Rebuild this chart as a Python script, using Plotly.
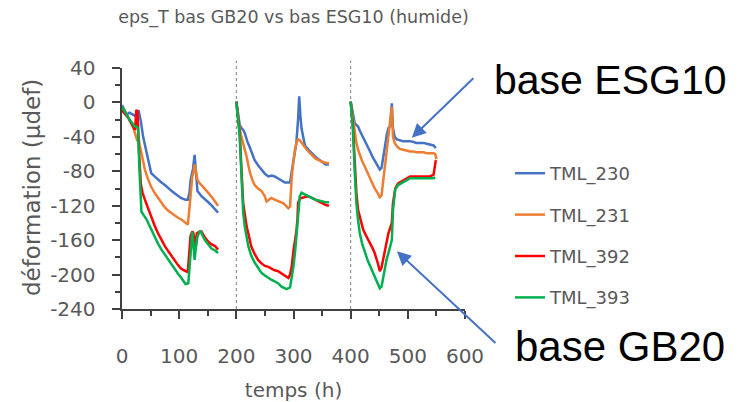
import plotly.graph_objects as go

# ---------------- data ----------------
t_230 = [0, 8, 13, 19, 24, 29, 33, 37, 42, 46, 51, 57, 63, 69, 75, 81, 87, 93, 98, 103, 107, 111, 115, 118, 120, 124, 127, 130, 132, 139, 145, 151, 157, 163, 168,
         None,
         200, 203, 206, 209, 212, 215, 219, 224, 228, 232, 238, 244, 250, 256, 262, 267, 272, 276, 281, 285, 290, 294, 297, 300, 305, 308, 310, 312, 314, 320, 326, 332, 338, 344, 350, 356, 362,
         None,
         400, 403, 407, 410, 413, 416, 420, 425, 430, 434, 438, 442, 447, 451, 454, 457, 460, 463, 466, 469, 472, 474, 477, 481, 486, 492, 498, 504, 510, 515, 521, 527, 533, 539, 545, 549]
e_230 = [-3, -14, -12, -14, -16, -9, -22, -40, -55, -67, -82, -86, -90, -93, -96, -100, -103, -106, -109, -111, -112, -113, -113, -105, -90, -78, -61, -85, -103, -109, -112, -116, -120, -124, -128,
         None,
         1, -15, -26, -30, -32, -36, -45, -53, -60, -67, -73, -78, -83, -86, -85, -86, -88, -90, -92, -93, -93, -93, -80, -66, -47, -20, 7, -15, -30, -50, -55, -59, -63, -66, -70, -72, -72,
         None,
         1, -10, -24, -26, -28, -33, -38, -45, -52, -57, -63, -68, -73, -78, -76, -65, -51, -38, -30, -28, -1, -30, -40, -43, -44, -45, -45, -45, -46, -47, -47, -47, -48, -49, -50, -53]

t_231 = [0, 8, 15, 20, 24, 27, 29, 31, 35, 40, 46, 51, 57, 63, 69, 75, 81, 87, 92, 98, 104, 110, 115, 117, 119, 121, 123, 125, 127, 130, 132, 136, 139, 145, 151, 157, 163, 168,
         None,
         200, 203, 206, 209, 212, 215, 218, 221, 224, 228, 232, 238, 244, 249, 253, 257, 261, 267, 273, 278, 282, 287, 291, 294, 297, 300, 303, 306, 308, 311, 314, 320, 326, 332, 338, 344, 350, 356, 362,
         None,
         400, 402, 404, 407, 410, 413, 416, 420, 425, 430, 434, 438, 442, 447, 451, 454, 457, 460, 463, 466, 469, 472, 474, 477, 481, 486, 492, 498, 504, 510, 515, 521, 527, 533, 539, 545, 548, 550]
e_231 = [-5, -14, -22, -30, -40, -45, -40, -50, -62, -78, -90, -98, -105, -111, -117, -122, -126, -129, -132, -134, -136, -139, -142, -130, -113, -95, -86, -82, -72, -82, -90, -94, -96, -100, -105, -110, -115, -120,
         None,
         1, -20, -32, -40, -48, -53, -63, -73, -82, -90, -96, -100, -103, -108, -115, -113, -111, -113, -115, -116, -117, -120, -123, -121, -86, -68, -53, -46, -43, -44, -47, -52, -57, -61, -65, -67, -69, -70, -71,
         None,
         1, -10, -20, -35, -47, -55, -61, -68, -75, -83, -88, -94, -100, -105, -110, -108, -92, -74, -58, -44, -28, -5, -40, -47, -51, -54, -55, -56, -57, -57, -58, -58, -58, -59, -59, -59, -60, -66]

t_392 = [0, 5, 11, 16, 19, 23, 24, 25, 27, 28, 30, 33, 36, 40, 46, 51, 57, 63, 69, 75, 81, 87, 93, 98, 103, 107, 111, 115, 118, 120, 123, 125, 127, 129, 131, 136, 139, 145, 151, 157, 163, 168,
         None,
         200, 203, 206, 208, 209, 211, 212, 215, 218, 222, 226, 232, 238, 244, 250, 256, 261, 267, 273, 279, 285, 291, 294, 297, 300, 303, 305, 307, 308, 311, 314, 320, 326, 332, 338, 344, 350, 356, 362,
         None,
         400, 402, 404, 407, 410, 413, 418, 422, 428, 434, 438, 442, 446, 448, 451, 454, 457, 460, 463, 466, 469, 472, 474, 476, 478, 483, 488, 492, 498, 504, 510, 515, 521, 527, 533, 539, 545, 549]
e_392 = [-9, -13, -18, -24, -28, -32, -20, -9, -10, -30, -60, -95, -105, -113, -124, -133, -143, -152, -160, -167, -173, -179, -184, -189, -193, -195, -196, -197, -175, -155, -150, -152, -167, -160, -152, -150, -150, -157, -162, -165, -167, -171,
         None,
         1, -15, -36, -65, -86, -105, -117, -132, -144, -155, -167, -176, -183, -187, -190, -191, -193, -195, -196, -199, -202, -204, -200, -190, -172, -160, -150, -135, -117, -112, -111, -110, -109, -111, -113, -115, -117, -119, -120,
         None,
         1, -10, -28, -67, -105, -125, -138, -148, -156, -163, -169, -175, -182, -188, -196, -192, -182, -171, -162, -152, -146, -140, -117, -105, -100, -94, -92, -90, -88, -86, -86, -86, -86, -86, -86, -86, -84, -67]

t_393 = [0, 6, 13, 19, 22, 25, 28, 30, 32, 34, 38, 43, 50, 57, 63, 69, 75, 81, 87, 92, 98, 104, 108, 111, 116, 118, 120, 123, 125, 127, 129, 132, 135, 138, 141, 145, 151, 157, 163, 168,
         None,
         200, 203, 206, 208, 209, 211, 212, 215, 218, 221, 226, 232, 238, 244, 250, 256, 261, 267, 273, 279, 285, 288, 294, 297, 300, 303, 305, 308, 311, 314, 320, 326, 332, 338, 344, 350, 356, 362,
         None,
         400, 402, 404, 407, 410, 413, 416, 420, 425, 430, 434, 438, 442, 447, 451, 454, 457, 460, 463, 466, 469, 472, 474, 476, 478, 483, 488, 492, 498, 504, 510, 515, 521, 527, 533, 539, 545, 548]
e_393 = [-5, -12, -20, -25, -28, -28, -30, -70, -110, -127, -131, -136, -146, -156, -164, -171, -177, -183, -189, -194, -199, -204, -208, -211, -210, -190, -167, -150, -165, -183, -170, -156, -151, -150, -155, -160, -165, -170, -172, -175,
         None,
         1, -18, -40, -70, -90, -112, -128, -145, -158, -167, -178, -186, -192, -198, -201, -204, -206, -208, -210, -214, -216, -217, -215, -203, -190, -172, -156, -130, -109, -105, -107, -109, -111, -113, -114, -115, -116, -116,
         None,
         1, -12, -32, -79, -117, -137, -152, -164, -175, -184, -190, -196, -202, -209, -216, -214, -202, -190, -182, -175, -167, -160, -125, -108, -101, -96, -94, -92, -90, -88, -88, -88, -88, -88, -88, -88, -88, -87]

series_names = ["TML_230", "TML_231", "TML_392", "TML_393"]
series_t = [t_230, t_231, t_392, t_393]
series_e = [e_230, e_231, e_392, e_393]
series_colors = ["#4472C4", "#ED7D31", "#FF0000", "#00B050"]

x_ticks = [0, 100, 200, 300, 400, 500, 600]
y_ticks = [40, 0, -40, -80, -120, -160, -200, -240]
y_tick_labels = ["40", "0", "-40", "-80", "-120", "-160", "-200", "-240"]
separators = [200, 400]

title_text = "eps_T bas GB20 vs bas ESG10 (humide)"
x_title = "temps (h)"
y_title = "déformation (µdef)"

# ---------------- figure ----------------
FONT = "DejaVu Sans"
GREY = "#595959"
AXC = "#404040"

# plot area in pixels
L, R, T, B = 122, 465, 68, 309
PW, PH = R - L, B - T


def px_x(p):
    return (p - L) / PW


def px_y(p):
    return (B - p) / PH


fig = go.Figure()
for name, t, e, c in zip(series_names, series_t, series_e, series_colors):
    fig.add_trace(go.Scatter(x=t, y=e, mode="lines", name=name,
                             line=dict(color=c, width=2.5),
                             legendgroup=name, connectgaps=False))

for s in separators:
    fig.add_shape(type="line", xref="x", yref="paper", x0=s, x1=s, y0=0, y1=1.03,
                  line=dict(color="#7f7f7f", width=1, dash="dot"), layer="below")

fig.update_layout(
    width=743, height=402,
    margin=dict(l=L, r=743 - R, t=T, b=402 - B, autoexpand=False),
    paper_bgcolor="white", plot_bgcolor="white",
    font=dict(family=FONT, color=GREY),
    title=dict(text=title_text, x=0.5, xref="paper", y=1 - 17 / 402, yref="container",
               xanchor="center", yanchor="middle", font=dict(size=17.5, color=GREY, family=FONT)),
    showlegend=True,
    legend=dict(x=px_x(510), xanchor="left", y=px_y(155), yanchor="top",
                font=dict(size=18, color=GREY, family=FONT), tracegroupgap=15,
                bgcolor="rgba(0,0,0,0)", borderwidth=0),
    xaxis=dict(range=[0, 600], tickvals=x_ticks, ticks="outside", ticklen=8, tickwidth=1.5,
               tickcolor=AXC, showline=True, linecolor=AXC, linewidth=1.5, showgrid=False,
               zeroline=False, tickfont=dict(size=20, color=GREY, family=FONT),
               ticklabelstandoff=20, automargin=False,
               minor=dict(dtick=50, tick0=0, ticks="outside", ticklen=5, tickwidth=1.5, tickcolor=AXC),
               title=dict(text=x_title, font=dict(size=20, color=GREY, family=FONT), standoff=20)),
    yaxis=dict(range=[-240, 40], tickvals=y_ticks,
               ticktext=[s + "\u00a0\u00a0" for s in y_tick_labels],
               ticks="outside", ticklen=8, tickwidth=1.5,
               tickcolor=AXC, showline=True, linecolor=AXC, linewidth=1.5, showgrid=False,
               zeroline=False, tickfont=dict(size=20, color=GREY, family=FONT),
               automargin=False,
               minor=dict(dtick=20, tick0=0, ticks="outside", ticklen=5, tickwidth=1.5, tickcolor=AXC)),
    xaxis2=dict(range=[0, 600], overlaying="x", anchor="y", side="bottom", tickvals=x_ticks,
                ticks="inside", ticklen=8, tickwidth=1.5, tickcolor=AXC, showticklabels=False,
                showline=False, showgrid=False, zeroline=False),
    yaxis2=dict(range=[-240, 40], overlaying="y", anchor="x", side="left", tickvals=y_ticks,
                ticks="inside", ticklen=8, tickwidth=1.5, tickcolor=AXC, showticklabels=False,
                showline=False, showgrid=False, zeroline=False),
)

# y axis title (placed as rotated text)
fig.add_annotation(x=px_x(32), y=px_y(188), xref="paper", yref="paper", text=y_title,
                   textangle=-90, showarrow=False, xanchor="center", yanchor="middle",
                   font=dict(size=23, color=GREY, family=FONT))

ARROW = "#4472C4"
fig.add_annotation(x=507, y=-41, xref="x", yref="y", text="", showarrow=True,
                   ax=63, ay=-61, axref="pixel", ayref="pixel",
                   arrowhead=2, arrowsize=1.4, arrowwidth=2, arrowcolor=ARROW, standoff=0)
fig.add_annotation(x=481, y=-173, xref="x", yref="y", text="", showarrow=True,
                   ax=100, ay=93, axref="pixel", ayref="pixel",
                   arrowhead=2, arrowsize=1.4, arrowwidth=2, arrowcolor=ARROW, standoff=0)
fig.add_annotation(x=px_x(610), y=px_y(80), xref="paper", yref="paper",
                   text="base ESG10", showarrow=False, xanchor="center", yanchor="middle",
                   font=dict(family="Liberation Sans", size=41, color="black"))
fig.add_annotation(x=px_x(620), y=px_y(346), xref="paper", yref="paper",
                   text="base GB20", showarrow=False, xanchor="center", yanchor="middle",
                   font=dict(family="Liberation Sans", size=42, color="black"))

fig.write_html("out.html")
